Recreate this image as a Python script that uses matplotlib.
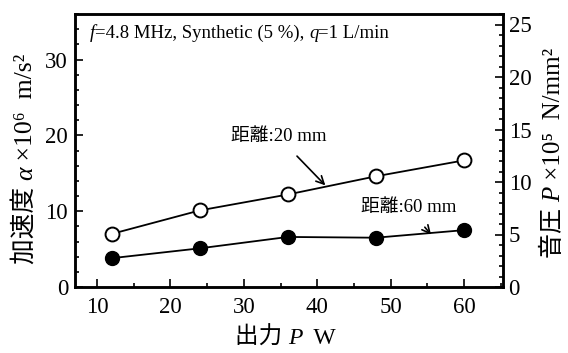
import matplotlib
matplotlib.use("Agg")
import matplotlib.pyplot as plt
from matplotlib.ticker import MultipleLocator

FAM = ['Liberation Serif', 'DejaVu Serif', 'Noto Sans CJK JP']
plt.rcParams['font.family'] = FAM

power = [12, 24, 36, 48, 60]
accel_20mm = [7.0, 10.1, 12.2, 14.6, 16.7]
accel_60mm = [3.8, 5.1, 6.6, 6.5, 7.5]

xlabel_parts = [('出力 ', 'normal'), ('P', 'italic'), ('  W', 'normal')]
ylabel_left_parts = [('加速度 ', 'normal'), ('α', 'italic'), (' ×10⁶  m/s²', 'normal')]
ylabel_right_parts = [('音圧 ', 'normal'), ('P', 'italic'), (' ×10⁵  N/mm²', 'normal')]
title_parts = [('f', 'italic'), ('=4.8 MHz, Synthetic (5 %), ', 'normal'),
               ('q', 'italic'), ('=1 L/min', 'normal')]
label_20 = '距離:20 mm'
label_60 = '距離:60 mm'

fig = plt.figure(figsize=(5.68, 3.53), dpi=100)
ax = fig.add_axes([75/568, 1-287/353, (503-75)/568, (287-14)/353])
ax.plot(power, accel_20mm, '-', color='black', lw=1.3, marker='o', ms=10,
        mfc='white', mec='black', mew=1.4, zorder=3)
ax.plot(power, accel_60mm, '-', color='black', lw=1.3, marker='o', ms=10,
        mfc='black', mec='black', zorder=3)

ax.set_xlim(7.0, 65.3)
ax.set_ylim(0, 36)
ax.xaxis.set_major_locator(MultipleLocator(10))
ax.xaxis.set_minor_locator(MultipleLocator(5))
ax.yaxis.set_major_locator(MultipleLocator(10))
ax.yaxis.set_minor_locator(MultipleLocator(2))
ax.tick_params(which='both', direction='in', top=False, right=False, labelsize=16.5, width=1.2)
ax.tick_params(which='major', length=6)
ax.tick_params(which='minor', length=3)
ax.tick_params(axis='x', pad=7)
ax.tick_params(axis='y', pad=5)
for s in ax.spines.values():
    s.set_linewidth(1.8)

ax2 = ax.twinx()
ax2.set_ylim(0, 26)
ax2.yaxis.set_major_locator(MultipleLocator(5))
ax2.yaxis.set_minor_locator(MultipleLocator(1))
ax2.tick_params(which='both', direction='in', labelsize=16.5, width=1.2, pad=4)
ax2.tick_params(which='major', length=6)
ax2.tick_params(which='minor', length=3)
for s in ax2.spines.values():
    s.set_linewidth(1.8)


def chain_h(parts, x, y, fs, transform):
    prev = ax.text(x, y, parts[0][0], fontsize=fs, style=parts[0][1],
                   ha='left', va='bottom', transform=transform)
    for txt, st in parts[1:]:
        prev = ax.annotate(txt, xy=(1, 0), xycoords=prev, fontsize=fs, style=st,
                           ha='left', va='bottom')


def chain_v(parts, x, y, fs):
    prev = ax.text(x, y, parts[0][0], fontsize=fs, style=parts[0][1], rotation=90,
                   ha='right', va='bottom', transform=ax.transAxes, clip_on=False)
    for txt, st in parts[1:]:
        prev = ax.annotate(txt, xy=(1, 1), xycoords=prev, fontsize=fs, style=st,
                           rotation=90, ha='right', va='bottom')


chain_h(xlabel_parts, (235-75)/428, (287-349)/273, 17, ax.transAxes)
chain_v(ylabel_left_parts, (37-75)/428, (287-264)/273, 18.5)
chain_v(ylabel_right_parts, (565-75)/428, (287-258)/273, 18)

chain_h(title_parts, 9.0, 32.3, 13.5, ax.transData)

ax.annotate(label_20, xy=(41.1, 13.4), xytext=(34.7, 19.8), fontsize=13.5,
            ha='center', va='center',
            arrowprops=dict(arrowstyle='->', color='black', lw=1.2,
                            shrinkA=8, shrinkB=0, mutation_scale=14))
ax.annotate(label_60, xy=(55.5, 6.9), xytext=(52.4, 10.5), fontsize=13.5,
            ha='center', va='center',
            arrowprops=dict(arrowstyle='->', color='black', lw=1.2,
                            shrinkA=8, shrinkB=0, mutation_scale=14))

fig.savefig('out.png', dpi=100)
